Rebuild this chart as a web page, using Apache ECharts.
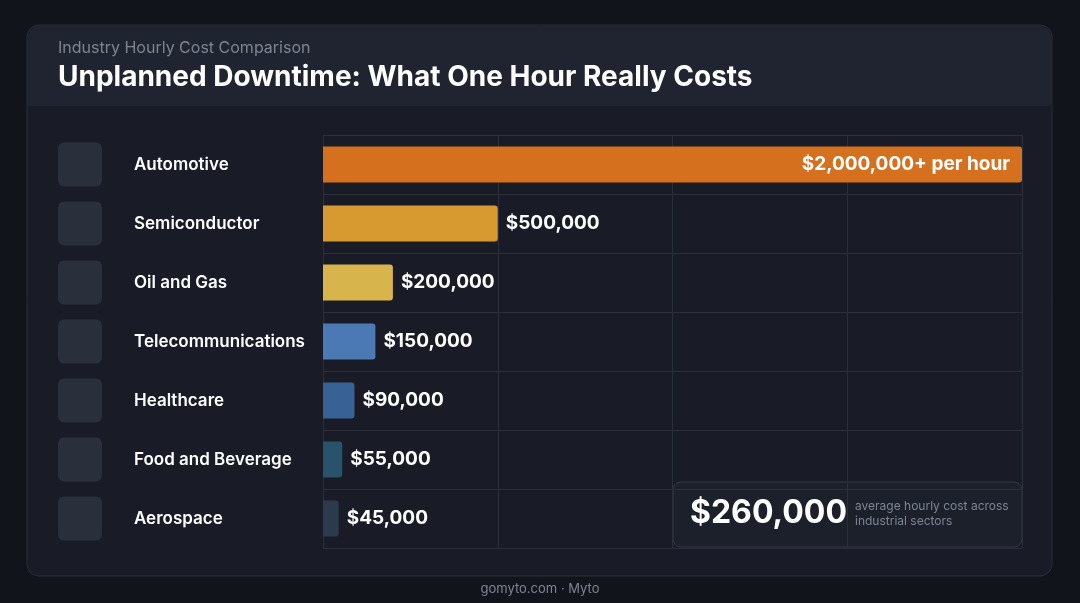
<!DOCTYPE html>
<html><head><meta charset="utf-8">
<script src="https://cdn.jsdelivr.net/npm/echarts@6/dist/echarts.min.js"></script>
<style>html,body{margin:0;background:#12141b;}#c{width:1080px;height:603px;}</style>
</head><body><div id="c"></div>
<script>
const categories=["Automotive","Semiconductor","Oil and Gas","Telecommunications","Healthcare","Food and Beverage","Aerospace"];
const values=[2000000,500000,200000,150000,90000,55000,45000];
const valueLabels=["$2,000,000+ per hour","$500,000","$200,000","$150,000","$90,000","$55,000","$45,000"];
const colors=["#d4701e","#d69a30","#d8b44c","#4a79b3","#386295","#28536a","#2b3a4c"];
const font="Inter, 'Noto Sans', sans-serif";
const chart=echarts.init(document.getElementById('c'));
chart.setOption({
backgroundColor:'#12141b',
animation:false,
graphic:[
{type:'rect',shape:{x:27,y:25,width:1025,height:551,r:12},style:{fill:'#191c26',stroke:'#2a2e3a',lineWidth:1}},
{type:'rect',shape:{x:28,y:26,width:1023,height:80,r:[12,12,0,0]},style:{fill:'#1f2430'}},
{type:'text',left:58,top:40,style:{text:'Industry Hourly Cost Comparison',fill:'#7d8494',font:'16px '+font}},
{type:'text',left:58,top:64,style:{text:'Unplanned Downtime: What One Hour Really Costs',fill:'#ffffff',font:'bold 28px '+font}},
{type:'rect',shape:{x:673,y:482,width:349,height:65,r:8},style:{fill:'#1c202b',stroke:'#343947',lineWidth:1}},
{type:'text',left:690,top:497,style:{text:'$260,000',fill:'#ffffff',font:'bold 32px '+font}},
{type:'text',left:855,top:499,style:{text:'average hourly cost across\nindustrial sectors',fill:'#7d8494',font:'12px '+font,lineHeight:15}},
{type:'text',left:'center',top:583,style:{text:'gomyto.com · Myto',fill:'#7d8494',font:'13px '+font}}
],
grid:{left:323,right:58,top:135,bottom:55},
xAxis:{type:'value',min:0,max:2000000,interval:500000,axisLabel:{show:false},axisLine:{show:false},axisTick:{show:false},
 splitLine:{lineStyle:{color:'#2b2f3b'}}},
yAxis:{type:'category',inverse:true,data:categories,axisLine:{show:false},axisTick:{show:false},
 splitLine:{show:true,lineStyle:{color:'#2b2f3b'}},
 axisLabel:{margin:265,align:'left',formatter:v=>'{i|}{n|'+v+'}',
  rich:{i:{width:44,height:44,backgroundColor:'#2a2f3c',borderRadius:6},
        n:{color:'#ffffff',fontSize:17,fontWeight:600,fontFamily:font,padding:[0,0,0,32]}}}},
series:[{type:'bar',barWidth:36,
 data:values.map((v,i)=>({value:v,itemStyle:{color:colors[i],borderRadius:[0,3,3,0]},
  label:{show:true,position:i===0?'insideRight':'right',distance:i===0?12:8,formatter:valueLabels[i],
   color:'#ffffff',fontSize:19,fontWeight:'bold',fontFamily:font}}))}]
});
</script></body></html>
